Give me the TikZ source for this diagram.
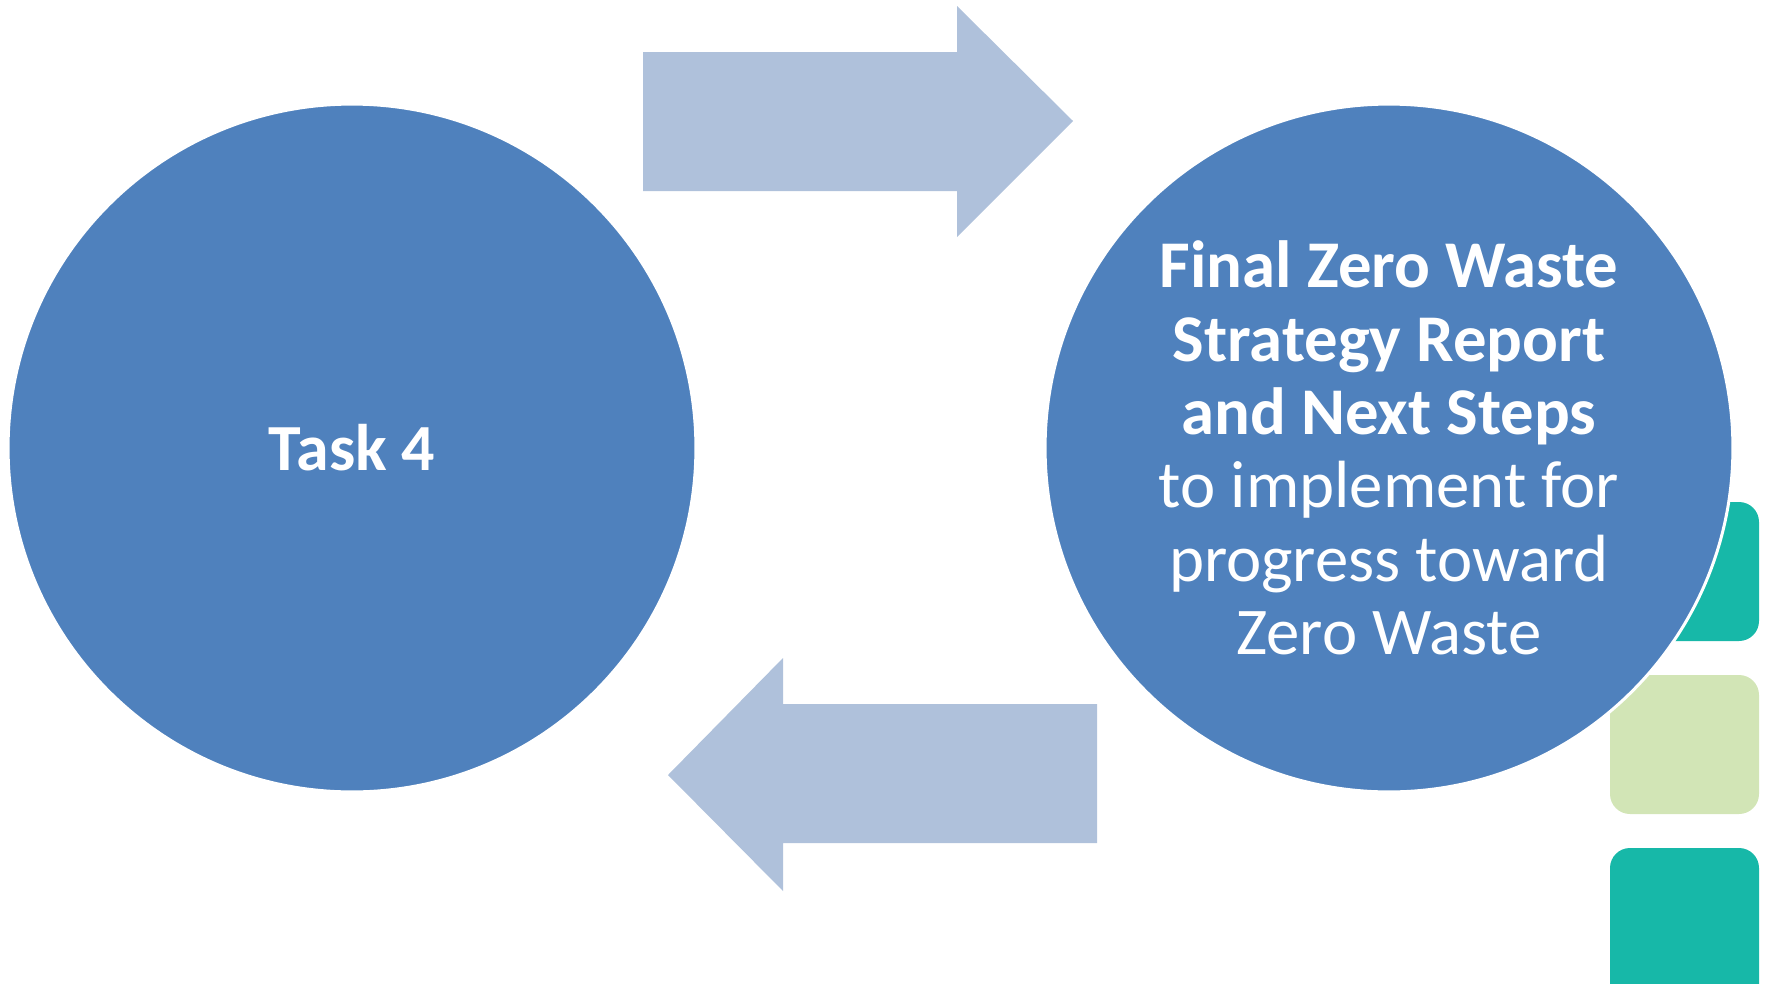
\documentclass[tikz,border=0pt]{standalone}
\usepackage{fontspec}
\setmainfont{Carlito}
\usetikzlibrary{positioning,calc}
\definecolor{taskblue}{HTML}{4F81BD}
\definecolor{arrowblue}{HTML}{AFC1DB}
\definecolor{tileteal}{HTML}{17B8A8}
\definecolor{tilegreen}{HTML}{D2E5B6}
\tikzset{
  bubble/.style={circle,fill=taskblue,draw=white,line width=.06cm,minimum size=13.76cm,inner sep=0pt,text=white,align=center},
  tile/.style={rounded corners=.4cm}
}

\begin{document}
\begin{tikzpicture}[x=.02cm,y=-.02cm]
\clip (0,0) rectangle (1772,984);
\useasboundingbox (0,0) rectangle (1772,984);
\fill[tile,tileteal] (1610,502) rectangle (1759,641);
\fill[tile,tilegreen] (1610,675) rectangle (1759,814);
\fill[tile,tileteal] (1610,848) rectangle (1759,1010);
\node[bubble,font=\fontsize{37.5}{42}\selectfont\bfseries] (task) at (352,448) {Task 4};
\node[bubble,font=\fontsize{38}{41.8}\selectfont] (report) at (1389,448)
  {\textbf{Final Zero Waste}\\\textbf{Strategy Report}\\\textbf{and Next Steps}\\to implement for\\progress toward\\Zero Waste};
\fill[arrowblue] (643,52) -- (957,52) -- (957,6) -- (1073,121) -- (957,237) -- (957,191) -- (643,191) -- cycle;
\fill[arrowblue] (1097,704) -- (783,704) -- (783,658) -- (668,775) -- (783,891) -- (783,843) -- (1097,843) -- cycle;
\end{tikzpicture}
\end{document}
